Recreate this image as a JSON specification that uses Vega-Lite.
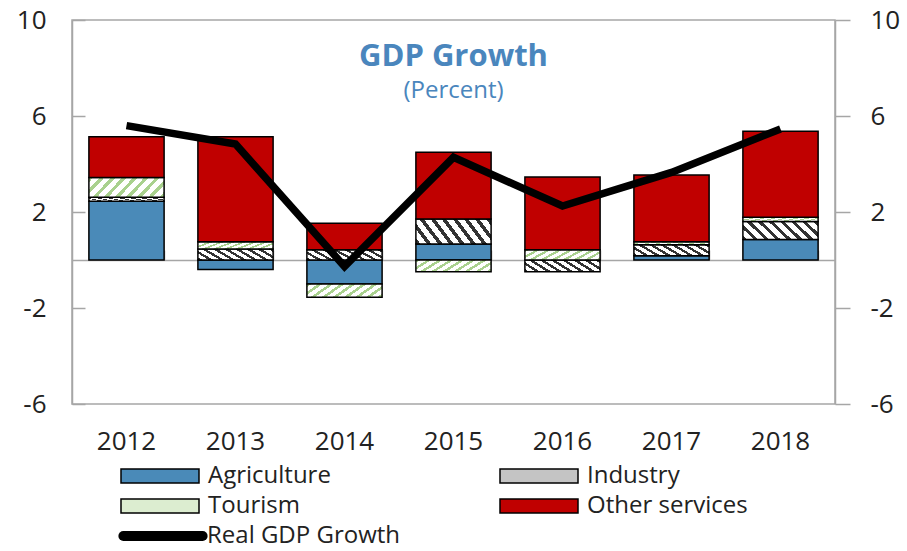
{
  "$schema": "https://vega.github.io/schema/vega-lite/v6.json",
  "width": 763,
  "height": 384,
  "autosize": {"type": "none"},
  "padding": {"left": 72, "top": 20, "right": 72, "bottom": 147},
  "background": "white",
  "title": {
    "text": "GDP Growth",
    "subtitle": "(Percent)",
    "anchor": "middle",
    "frame": "group",
    "orient": "top",
    "offset": -97,
    "font": "Open Sans",
    "fontSize": 31,
    "fontWeight": "bold",
    "color": "#4a86bd",
    "subtitleFont": "Open Sans",
    "subtitleFontSize": 24,
    "subtitleColor": "#4a86bd",
    "subtitlePadding": 6
  },
  "datasets": {
    "sectors": [
      {"year": "2012", "sector": "Agriculture", "value": 2.45},
      {"year": "2012", "sector": "Industry", "value": 0.16},
      {"year": "2012", "sector": "Tourism", "value": 0.83},
      {"year": "2012", "sector": "Other services", "value": 1.7},
      {"year": "2013", "sector": "Agriculture", "value": -0.4},
      {"year": "2013", "sector": "Industry", "value": 0.46},
      {"year": "2013", "sector": "Tourism", "value": 0.3},
      {"year": "2013", "sector": "Other services", "value": 4.38},
      {"year": "2014", "sector": "Agriculture", "value": -1.0},
      {"year": "2014", "sector": "Industry", "value": 0.43},
      {"year": "2014", "sector": "Tourism", "value": -0.55},
      {"year": "2014", "sector": "Other services", "value": 1.1},
      {"year": "2015", "sector": "Agriculture", "value": 0.67},
      {"year": "2015", "sector": "Industry", "value": 1.04},
      {"year": "2015", "sector": "Tourism", "value": -0.49},
      {"year": "2015", "sector": "Other services", "value": 2.78},
      {"year": "2016", "sector": "Agriculture", "value": 0.0},
      {"year": "2016", "sector": "Industry", "value": -0.49},
      {"year": "2016", "sector": "Tourism", "value": 0.43},
      {"year": "2016", "sector": "Other services", "value": 3.03},
      {"year": "2017", "sector": "Agriculture", "value": 0.18},
      {"year": "2017", "sector": "Industry", "value": 0.46},
      {"year": "2017", "sector": "Tourism", "value": 0.12},
      {"year": "2017", "sector": "Other services", "value": 2.78},
      {"year": "2018", "sector": "Agriculture", "value": 0.85},
      {"year": "2018", "sector": "Industry", "value": 0.75},
      {"year": "2018", "sector": "Tourism", "value": 0.18},
      {"year": "2018", "sector": "Other services", "value": 3.58}
    ],
    "gdp": [
      {"year": "2012", "gdp": 5.6},
      {"year": "2013", "gdp": 4.83},
      {"year": "2014", "gdp": -0.27},
      {"year": "2015", "gdp": 4.28},
      {"year": "2016", "gdp": 2.25},
      {"year": "2017", "gdp": 3.65},
      {"year": "2018", "gdp": 5.46}
    ]
  },
  "layer": [
    {
      "data": {"name": "sectors"},
      "transform": [
        {"calculate": "indexof(['Agriculture', 'Industry', 'Tourism', 'Other services'], datum.sector)", "as": "stackOrder"}
      ],
      "mark": {"type": "bar", "stroke": "black", "strokeWidth": 1.5},
      "encoding": {
        "x": {
          "field": "year",
          "type": "ordinal",
          "scale": {"paddingInner": 0.31, "paddingOuter": 0.155},
          "axis": {"orient": "bottom", "title": null, "domain": false, "ticks": false, "labelAngle": 0, "labelPadding": 24}
        },
        "y": {
          "field": "value",
          "type": "quantitative",
          "stack": "zero",
          "scale": {"domain": [-6, 10], "nice": false, "zero": false},
          "axis": {"orient": "left", "values": [-6, -2, 2, 6, 10], "labelExpr": "'' + datum.value", "title": null, "grid": false, "tickSize": -13, "labelPadding": 39}
        },
        "order": {"field": "stackOrder", "type": "quantitative", "sort": "ascending"},
        "fill": {
          "condition": [
            {"test": "datum.sector === 'Industry'", "value": {"gradient": "linear", "x1": 0, "y1": 1, "x2": 1.25, "y2": 0.6875, "stops": [
                {"offset": 0, "color": "#333333"}, {"offset": 0.045, "color": "#333333"},
                {"offset": 0.045, "color": "#ffffff"}, {"offset": 0.1111, "color": "#ffffff"},
                {"offset": 0.1111, "color": "#333333"}, {"offset": 0.1561, "color": "#333333"},
                {"offset": 0.1561, "color": "#ffffff"}, {"offset": 0.2222, "color": "#ffffff"},
                {"offset": 0.2222, "color": "#333333"}, {"offset": 0.2672, "color": "#333333"},
                {"offset": 0.2672, "color": "#ffffff"}, {"offset": 0.3333, "color": "#ffffff"},
                {"offset": 0.3333, "color": "#333333"}, {"offset": 0.3783, "color": "#333333"},
                {"offset": 0.3783, "color": "#ffffff"}, {"offset": 0.4444, "color": "#ffffff"},
                {"offset": 0.4444, "color": "#333333"}, {"offset": 0.4894, "color": "#333333"},
                {"offset": 0.4894, "color": "#ffffff"}, {"offset": 0.5556, "color": "#ffffff"},
                {"offset": 0.5556, "color": "#333333"}, {"offset": 0.6006, "color": "#333333"},
                {"offset": 0.6006, "color": "#ffffff"}, {"offset": 0.6667, "color": "#ffffff"},
                {"offset": 0.6667, "color": "#333333"}, {"offset": 0.7117, "color": "#333333"},
                {"offset": 0.7117, "color": "#ffffff"}, {"offset": 0.7778, "color": "#ffffff"},
                {"offset": 0.7778, "color": "#333333"}, {"offset": 0.8228, "color": "#333333"},
                {"offset": 0.8228, "color": "#ffffff"}, {"offset": 0.8889, "color": "#ffffff"},
                {"offset": 0.8889, "color": "#333333"}, {"offset": 0.9339, "color": "#333333"},
                {"offset": 0.9339, "color": "#ffffff"}, {"offset": 1, "color": "#ffffff"}
              ]}},
            {"test": "datum.sector === 'Tourism'", "value": {"gradient": "linear", "x1": 0, "y1": 0, "x2": 1.25, "y2": 0.3125, "stops": [
                {"offset": 0, "color": "#a9d18e"}, {"offset": 0.045, "color": "#a9d18e"},
                {"offset": 0.045, "color": "#ffffff"}, {"offset": 0.1111, "color": "#ffffff"},
                {"offset": 0.1111, "color": "#a9d18e"}, {"offset": 0.1561, "color": "#a9d18e"},
                {"offset": 0.1561, "color": "#ffffff"}, {"offset": 0.2222, "color": "#ffffff"},
                {"offset": 0.2222, "color": "#a9d18e"}, {"offset": 0.2672, "color": "#a9d18e"},
                {"offset": 0.2672, "color": "#ffffff"}, {"offset": 0.3333, "color": "#ffffff"},
                {"offset": 0.3333, "color": "#a9d18e"}, {"offset": 0.3783, "color": "#a9d18e"},
                {"offset": 0.3783, "color": "#ffffff"}, {"offset": 0.4444, "color": "#ffffff"},
                {"offset": 0.4444, "color": "#a9d18e"}, {"offset": 0.4894, "color": "#a9d18e"},
                {"offset": 0.4894, "color": "#ffffff"}, {"offset": 0.5556, "color": "#ffffff"},
                {"offset": 0.5556, "color": "#a9d18e"}, {"offset": 0.6006, "color": "#a9d18e"},
                {"offset": 0.6006, "color": "#ffffff"}, {"offset": 0.6667, "color": "#ffffff"},
                {"offset": 0.6667, "color": "#a9d18e"}, {"offset": 0.7117, "color": "#a9d18e"},
                {"offset": 0.7117, "color": "#ffffff"}, {"offset": 0.7778, "color": "#ffffff"},
                {"offset": 0.7778, "color": "#a9d18e"}, {"offset": 0.8228, "color": "#a9d18e"},
                {"offset": 0.8228, "color": "#ffffff"}, {"offset": 0.8889, "color": "#ffffff"},
                {"offset": 0.8889, "color": "#a9d18e"}, {"offset": 0.9339, "color": "#a9d18e"},
                {"offset": 0.9339, "color": "#ffffff"}, {"offset": 1, "color": "#ffffff"}
              ]}}
          ],
          "field": "sector",
          "type": "nominal",
          "scale": {
            "domain": ["Agriculture", "Tourism", "Industry", "Other services"],
            "range": ["#4a8ab8", "#dcedd0", "#c4c4c4", "#c00000"]
          },
          "legend": {
            "orient": "none",
            "legendX": 75,
            "legendY": 443,
            "columns": 2,
            "columnPadding": 166,
            "rowPadding": 5,
            "title": null,
            "symbolType": "M-3.25,-0.58H3.25V0.58H-3.25Z",
            "symbolSize": 576,
            "symbolStrokeColor": "black",
            "symbolStrokeWidth": 1.5,
            "symbolOpacity": 1,
            "labelOffset": 35,
            "labelLimit": 400,
            "labelFontSize": 24,
            "encode": {"symbols": {"update": {
              "stroke": {"value": "black"},
              "strokeWidth": {"value": 1.5},
              "opacity": {"value": 1}
            }}}
          }
        }
      }
    },
    {
      "data": {"name": "gdp"},
      "mark": {"type": "line", "strokeWidth": 7.5, "strokeJoin": "miter"},
      "encoding": {
        "x": {
          "field": "year",
          "type": "ordinal",
          "axis": {"orient": "bottom", "offset": -144, "labels": false, "title": null, "domain": true, "ticks": true, "tickBand": "extent", "tickSize": -10}
        },
        "y": {
          "field": "gdp",
          "type": "quantitative",
          "axis": {"orient": "right", "values": [-6, -2, 2, 6, 10], "labelExpr": "'' + datum.value", "title": null, "grid": false, "tickSize": 15, "labelPadding": 20}
        },
        "stroke": {
          "datum": "Real GDP Growth",
          "type": "nominal",
          "scale": {"domain": ["Real GDP Growth"], "range": ["black"]},
          "legend": {
            "orient": "none",
            "legendX": 74,
            "legendY": 499,
            "title": null,
            "symbolType": "M-3.3,0H3.3",
            "symbolSize": 576,
            "symbolStrokeWidth": 10,
            "labelOffset": 27,
            "labelLimit": 400,
            "labelFontSize": 24,
            "encode": {"symbols": {"update": {"strokeCap": {"value": "round"}}}}
          }
        }
      }
    }
  ],
  "resolve": {
    "scale": {"x": "shared", "y": "shared"},
    "axis": {"x": "independent", "y": "independent"},
    "legend": {"fill": "independent", "stroke": "independent"}
  },
  "config": {
    "font": "Open Sans",
    "view": {"stroke": "#a6a6a6", "strokeWidth": 1.5},
    "axis": {
      "labelFont": "Open Sans",
      "labelFontSize": 26,
      "labelColor": "#222222",
      "domainColor": "#a6a6a6",
      "tickColor": "#a6a6a6",
      "domainWidth": 1.5,
      "tickWidth": 1.5,
      "grid": false
    },
    "legend": {
      "labelFont": "Open Sans",
      "labelFontSize": 24,
      "labelColor": "#222222"
    }
  }
}
